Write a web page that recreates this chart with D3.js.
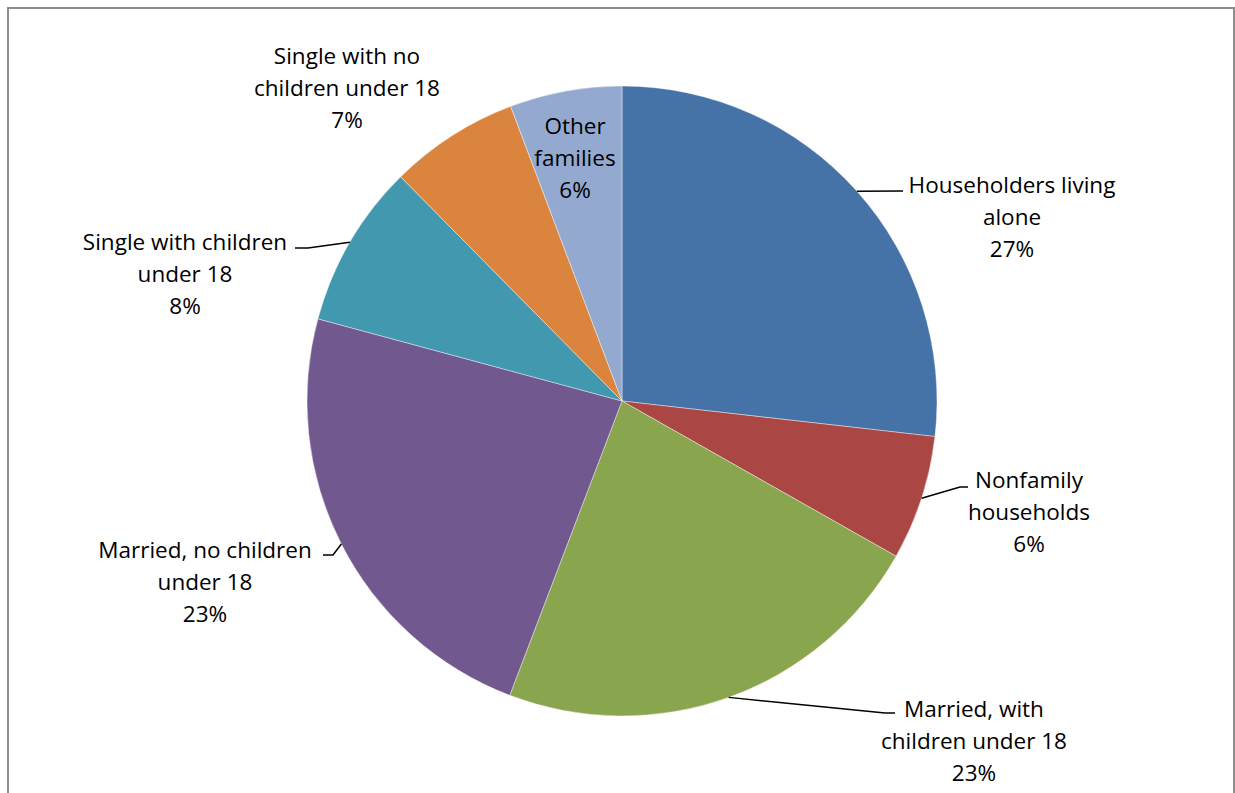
<!DOCTYPE html>
<html><head><meta charset="utf-8">
<script src="https://cdn.jsdelivr.net/npm/d3@7"></script>
<style>html,body{margin:0;padding:0;background:#fff;}svg{display:block;}</style>
</head><body>
<svg id="chart" width="1235" height="793"></svg>
<script>
const categories = ["Householders living alone","Nonfamily households","Married, with children under 18","Married, no children under 18","Single with children under 18","Single with no children under 18","Other families"];
const values = [26.8, 6.4, 22.6, 23.4, 8.4, 6.65, 5.75];
const labelLines = [["Householders living","alone"],["Nonfamily","households"],["Married, with","children under 18"],["Married, no children","under 18"],["Single with children","under 18"],["Single with no","children under 18"],["Other","families"]];
const colors = ["#4572A7","#AA4643","#89A54E","#71588F","#4198AF","#DB843D","#93A9CF"];

// layout (label text centre relative to pie centre, first line); leader elbow
const labelPos = [[390,-216],[407,79],[352,308],[-417,149],[-437,-159],[-275,-345],[-47,-275]];
const leaderEnd = [[281,-210,281],[338,86,346],[263,312,273],[-289,154,-299],[-314,-153,-327],null,null];

const svg = d3.select("#chart");
const cx = 622, cy = 401, R = 315;
const lineH = 32;

svg.append("rect").attr("x",8).attr("y",8).attr("width",1226).attr("height",790)
  .attr("fill","#fff").attr("stroke","#8c8c8c").attr("stroke-width",2);

const pie = d3.pie().sort(null).value(d=>d)(values);
const arc = d3.arc().innerRadius(0).outerRadius(R);
const g = svg.append("g").attr("transform",`translate(${cx},${cy})`);
g.selectAll("path.slice").data(pie).join("path").attr("class","slice")
  .attr("d",arc).attr("fill",(d,i)=>colors[i]).attr("stroke","#ffffff").attr("stroke-opacity",0.5).attr("stroke-width",0.8);

const total = d3.sum(values);
const fmt = v => Math.round(v/total*100) + "%";

pie.forEach((d,i)=>{
  const mid = (d.startAngle+d.endAngle)/2;
  if (leaderEnd[i]) {
    const sx = R*Math.sin(mid), sy = -R*Math.cos(mid);
    const [ex,ey,hx] = leaderEnd[i];
    g.append("path").attr("d",`M${sx},${sy}L${ex},${ey}L${hx},${ey}`)
      .attr("fill","none").attr("stroke","#000").attr("stroke-width",1.5);
  }
  const lines = labelLines[i].concat([fmt(values[i])]);
  const t = g.append("text").attr("text-anchor","middle")
    .attr("font-family","'Open Sans', Lato, sans-serif").attr("font-size",22.5).attr("fill","#000");
  lines.forEach((s,k)=>{
    t.append("tspan").attr("x",labelPos[i][0]).attr("y",labelPos[i][1]+k*lineH).attr("dy","0.35em").text(s);
  });
});
</script>
</body></html>
